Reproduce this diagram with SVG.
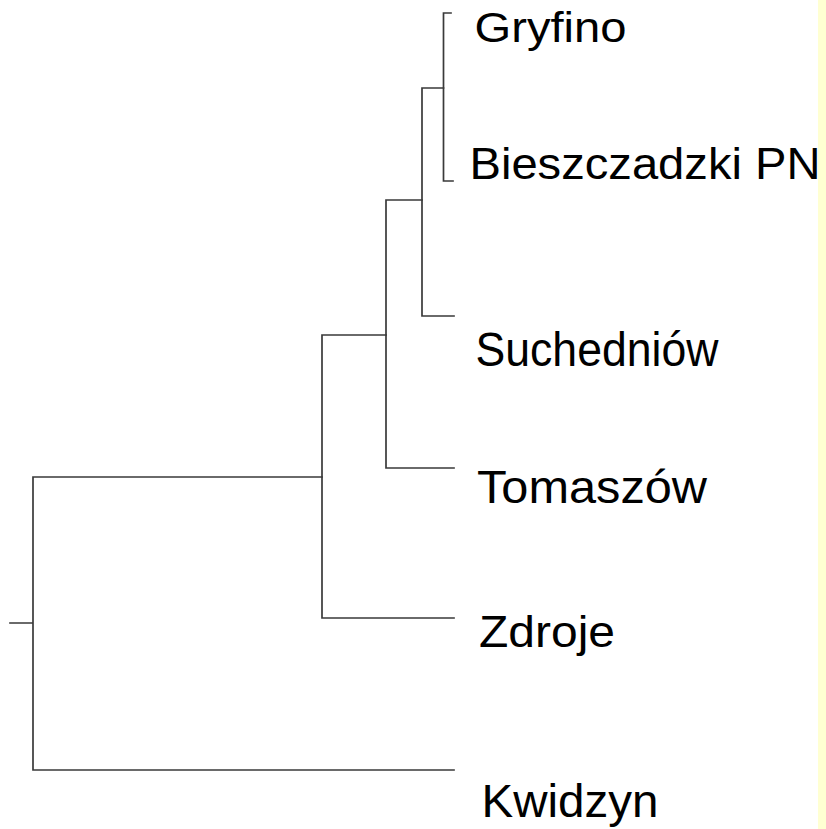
<svg xmlns="http://www.w3.org/2000/svg" width="826" height="829" viewBox="0 0 826 829">
<style>
.e{stroke:#3a3a3a;stroke-width:1.7;fill:none;stroke-linecap:square}
.l{font-family:"Liberation Sans",Arial,sans-serif;fill:#000}
</style>
<rect x="0" y="0" width="826" height="829" fill="#ffffff"/>
<rect x="818" y="0" width="8" height="829" fill="#ffffd2"/>
<g id="connectors">
<path class="e" d="M10,623H33M33,477V770M33,477H322M33,770H454"/>
<path class="e" d="M322,335V618M322,335H386M322,618H454"/>
<path class="e" d="M386,200V468M386,200H422M386,468H454"/>
<path class="e" d="M422,88V316M422,88H443.5M422,316H454"/>
<path class="e" d="M443.5,13V181M443.5,13H451M443.5,181H453"/>
</g>
<g id="Gryfino"><text class="l" x="474.5" y="41.5" font-size="43" textLength="152" lengthAdjust="spacingAndGlyphs">Gryfino</text></g>
<g id="Bieszczadzki"><text class="l" x="469.5" y="178.5" font-size="43.5" textLength="351" lengthAdjust="spacingAndGlyphs">Bieszczadzki PN</text></g>
<g id="Suchedniow"><text class="l" x="475.5" y="366" font-size="48" textLength="243" lengthAdjust="spacingAndGlyphs">Suchedniów</text></g>
<g id="Tomaszow"><text class="l" x="477" y="503" font-size="47" textLength="230" lengthAdjust="spacingAndGlyphs">Tomaszów</text></g>
<g id="Zdroje"><text class="l" x="479" y="646.5" font-size="44" textLength="136" lengthAdjust="spacingAndGlyphs">Zdroje</text></g>
<g id="Kwidzyn"><text class="l" x="481.5" y="816.5" font-size="46.5" textLength="177" lengthAdjust="spacingAndGlyphs">Kwidzyn</text></g>
</svg>
